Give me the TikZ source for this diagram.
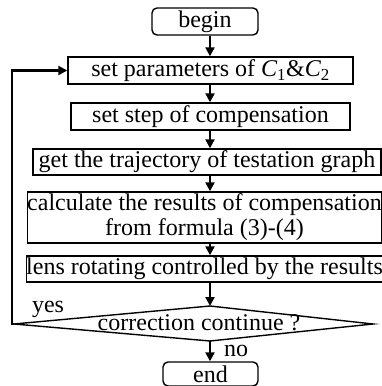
\documentclass[tikz,border=0pt]{standalone}
\usepackage{fontspec}
\setmainfont{Liberation Serif}
\usetikzlibrary{arrows.meta}
\begin{document}
\begin{tikzpicture}[x=1pt,y=-1pt,
  box/.style={draw,line width=1.4pt,inner sep=0pt,font=\fontsize{24}{25}\selectfont,align=center},
  term/.style={box,rounded corners=5pt},
  arr/.style={line width=2.2pt,-{Triangle[length=9pt,width=9pt]}},
  lbl/.style={inner sep=0pt,font=\fontsize{24}{25}\selectfont}]
\useasboundingbox (0,0) rectangle (382,386);
\clip (0,0) rectangle (382,386);
\coordinate (ax) at (210,0);
\node[term,minimum width=106pt,minimum height=27pt] (begin) at (205,21.5) {begin};
\node[box,minimum width=285pt,minimum height=27pt] (params) at (210.5,70.5) {set parameters of {\itshape C}\textsubscript{1}\&{\itshape C}\textsubscript{2}};
\node[box,minimum width=279pt,minimum height=27pt] (stepc) at (210.5,116.5) {set step of compensation};
\node[box,minimum width=348pt,minimum height=26pt] (traj) at (207,162) {get the trajectory of testation graph};
\node[box,minimum width=353pt,minimum height=51pt] (calc) at (204.5,217.5) {calculate the results of compensation\\from formula (3)-(4)};
\node[box,minimum width=353pt,minimum height=26pt] (lens) at (204.5,269) {lens rotating controlled by the results};
\coordinate (dL) at (14,324);
\coordinate (dT) at (210,306);
\coordinate (dR) at (373,324);
\coordinate (dB) at (210,341);
\draw[line width=1.4pt] (dL) -- (dT) -- (dR) -- (dB) -- cycle;
\node[lbl] (dec) at (199,323) {correction continue ?};
\node[term,minimum width=95pt,minimum height=24pt] (endn) at (210.5,374) {end};
\node[lbl] (yes) at (48,309) {yes};
\node[lbl] (no) at (236,351) {no};
\coordinate (lp) at (12,324);
\draw[arr] (begin.south -| ax) -- (params.north -| ax);
\draw[arr] (params.south -| ax) -- (stepc.north -| ax);
\draw[arr] (stepc.south -| ax) -- (traj.north -| ax);
\draw[arr] (traj.south -| ax) -- (calc.north -| ax);
\draw[arr] (calc.south -| ax) -- (lens.north -| ax);
\draw[arr] (lens.south -| ax) -- (dT);
\draw[arr] (dB) -- (endn.north -| ax);
\draw[arr] (dL) -- (lp) |- (params.west);
\end{tikzpicture}
\end{document}
